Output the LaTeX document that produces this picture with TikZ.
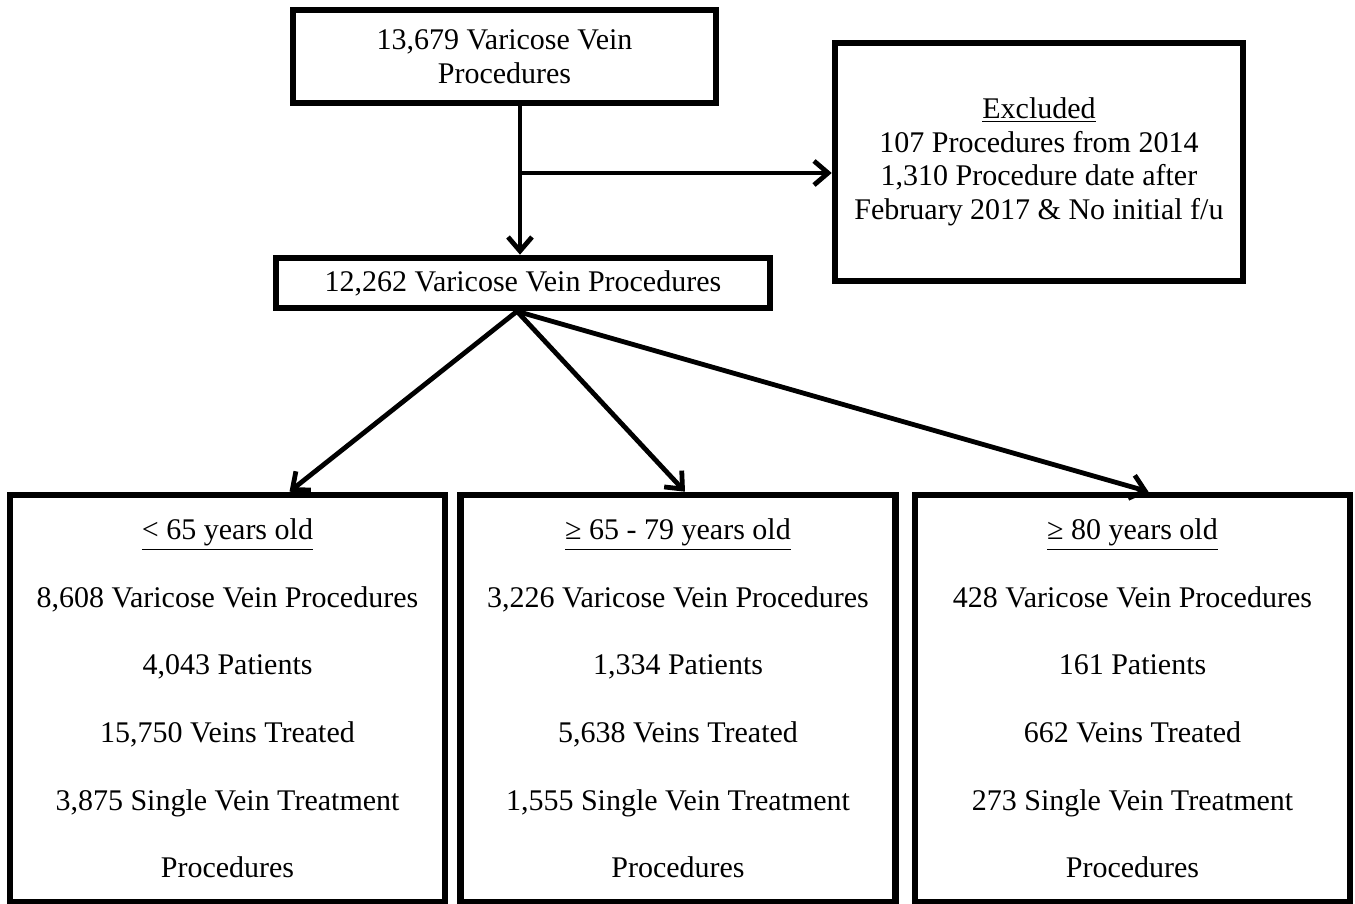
\documentclass[tikz,border=0pt]{standalone}
\usepackage{fontspec}
\setmainfont{Liberation Serif}
\usetikzlibrary{arrows.meta}

\begin{document}
\begin{tikzpicture}[x=0.5pt, y=-0.5pt, every node/.style={font=\fontsize{15}{16.8}\selectfont}, >={Straight Barb[length=7pt, width=12pt]}, box/.style={draw, line width=3.3pt, inner sep=0pt, align=center}, arr/.style={->, line width=2.4pt}, agebox/.style={box, minimum width=217.5pt, minimum height=203.5pt, font=\fontsize{15}{33.8}\selectfont}]
	\useasboundingbox (0,0) rectangle (1355,904);
	\node[box, minimum width=211.5pt, minimum height=46.5pt] (total) at (504.5,56.5) {13,679 Varicose Vein\\Procedures};
	\node[box, minimum width=204pt, minimum height=119pt] (excl) at (1039,162) {\underline{Excluded}\\107 Procedures from 2014\\1,310 Procedure date after\\February 2017 \& No initial f/u};
	\node[box, minimum width=247pt, minimum height=25pt] (kept) at (523,283) {12,262 Varicose Vein Procedures};
	\coordinate (split) at (520,173);
	\draw[arr] (total.south -| split) -- (kept.north -| split);
	\draw[arr] (split) -- (split -| excl.west);
	\foreach \n/\x/\head/\proc/\pat/\vein/\single in {
		young/227.5/{< 65 years old}/{8,608}/{4,043}/{15,750}/{3,875},
		mid/678/{≥ 65 - 79 years old}/{3,226}/{1,334}/{5,638}/{1,555},
		old/1132.5/{≥ 80 years old}/428/161/662/273} {
		\node[agebox] (\n) at (\x,698.5) {\underline{\head}\\\proc{} Varicose Vein Procedures\\\pat{} Patients\\\vein{} Veins Treated\\\single{} Single Vein Treatment\\Procedures};
	}
	\draw[arr] ([xshift=-3pt]kept.south) -- ([xshift=31pt]young.north);
	\draw[arr] ([xshift=-3pt]kept.south) -- ([xshift=3.5pt]mid.north);
	\draw[arr] ([xshift=-3pt]kept.south) -- ([xshift=8pt]old.north);
\end{tikzpicture}
\end{document}
